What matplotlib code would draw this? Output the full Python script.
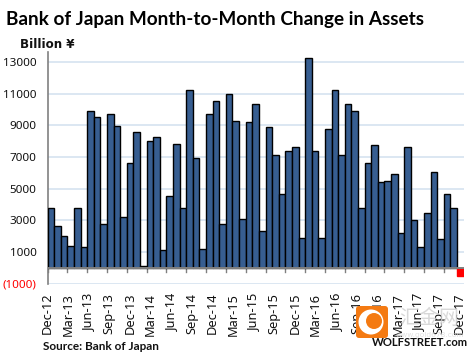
import numpy as np
import matplotlib
matplotlib.use('Agg')
import matplotlib.pyplot as plt
from matplotlib.patches import FancyBboxPatch, Circle

labels = ['Dec-12','Mar-13','Jun-13','Sep-13','Dec-13','Mar-14','Jun-14','Sep-14','Dec-14','Mar-15',
          'Jun-15','Sep-15','Dec-15','Mar-16','Jun-16','Sep-16','Dec-16','Mar-17','Jun-17','Sep-17','Dec-17']
values = [3800,2650,2000,1400,3750,1300,9900,9550,2750,9700,8950,3200,6650,8550,100,8000,8250,1100,4550,7800,3750,
          11200,6950,1200,9700,10550,2800,11000,9250,3100,9200,10350,2300,8900,7150,4650,7400,7650,1900,13250,7350,
          1900,8750,11200,7100,10350,9900,3800,6600,7750,5400,5500,5900,2200,7650,3050,1300,3450,6050,1800,4650,3800,-500]
yticks = [1000,3000,5000,7000,9000,11000,13000]
ytick_labels = ['1000','3000','5000','7000','9000','11000','13000']

W, H = 476, 361
fig = plt.figure(figsize=(W/100, H/100), dpi=100)
ax = fig.add_axes([47.5/W, 1-283.7/H, (463.7-47.5)/W, (283.7-52)/H])

x = np.arange(len(values))
colors = ['#375E91' if v > 0 else '#FF0000' for v in values]
edges = ['black' if v > 0 else '#FF0000' for v in values]
ax.bar(x, values, width=1.0, color=colors, edgecolor=edges, linewidth=1.0, zorder=3)
ax.set_xlim(-0.5, len(values)-0.5)
ax.set_ylim(-1000, 13630)

ax.set_yticks(yticks + [-1000])
ax.set_yticklabels(ytick_labels + ['(1000)'], fontsize=8.4, color='#111111', family='Noto Sans')
ax.get_yticklabels()[-1].set_color('#FF0000')
ax.tick_params(axis='y', length=0, pad=8)
ax.grid(axis='y', color='#D6E3F0', linewidth=1.2, zorder=0)
ax.set_axisbelow(True)

for s in ['top','right','bottom']:
    ax.spines[s].set_visible(False)
ax.spines['left'].set_color('#808080')
ax.spines['left'].set_linewidth(1.2)
ax.axhline(0, color='#808080', linewidth=1.4, zorder=4)

# tick marks hang from the zero line, labels are spaced a bit wider than the ticks
for i in range(0, len(values), 3):
    ax.plot([i-0.5, i-0.5], [0, -280], color='#808080', linewidth=1.0, zorder=2, clip_on=False)
label_pos = -0.5 + np.arange(len(labels))*3.12
ax.set_xticks(label_pos)
ax.set_xticklabels(labels, rotation=90, fontsize=9.2, color='#111111', family='Noto Sans')
ax.tick_params(axis='x', length=0, pad=6.5)

fig.text(6/W, 1-19/H, 'Bank of Japan Month-to-Month Change in Assets', fontsize=13.6, fontweight='bold',
         family='Lato', color='black', va='center', ha='left')
fig.text(20/W, 1-45/H, 'Billion ¥', fontsize=8.6, fontweight='bold', family='DejaVu Sans', va='center', color='#111111')
fig.text(43/W, 1-346/H, 'Source: Bank of Japan', fontsize=8.5, fontweight='bold', family='Lato', va='center', color='#111111')

# watermark
ov = fig.add_axes([0, 0, 1, 1])
ov.set_xlim(0, W)
ov.set_ylim(H, 0)
ov.axis('off')
ov.patch.set_alpha(0)
ov.add_patch(FancyBboxPatch((356, 306), 32, 32, boxstyle='round,pad=0,rounding_size=3', fc='#F47A12', ec='none'))
ov.add_patch(Circle((371, 322), 12.5, fc='white', ec='none'))
ov.add_patch(Circle((374, 321), 8, fc='#F47A12', ec='none'))
ov.text(399, 319, '汇金网', fontsize=14.4, family='Noto Sans CJK SC', color='#CFCFCF', va='center', alpha=0.8)
ov.text(396, 335, 'www.gold678.com', fontsize=5.4, color='#DADADA', va='center', alpha=0.8)
ov.text(468, 342, 'WOLFSTREET.com', fontsize=8.1, fontweight='bold', family='Lato', color='#111111', va='center', ha='right')

fig.savefig('out.png', dpi=100)
